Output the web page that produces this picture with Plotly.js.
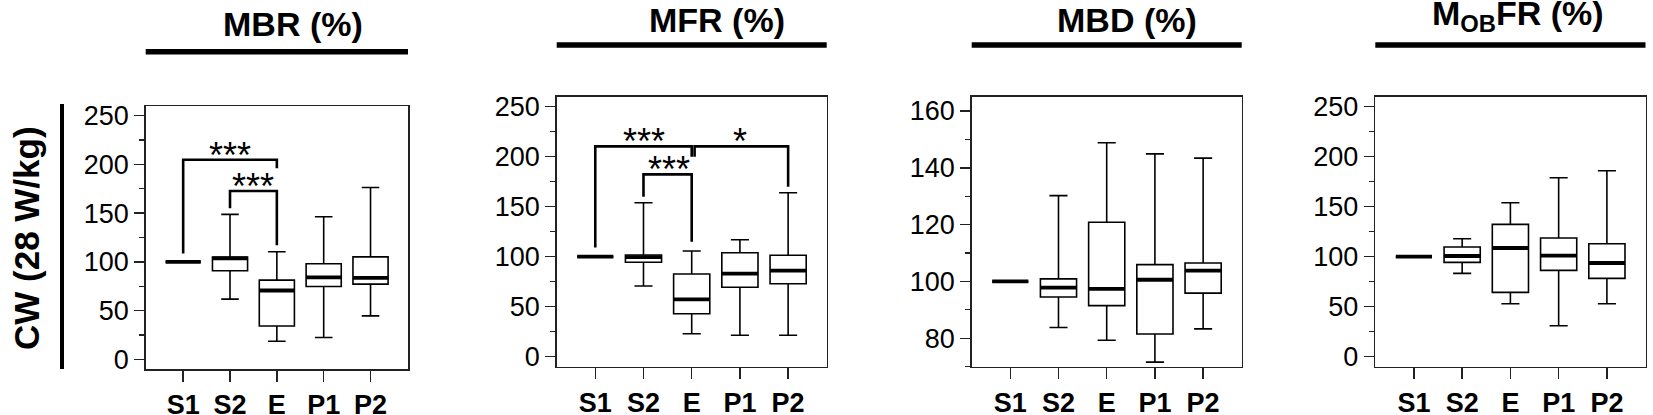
<!DOCTYPE html>
<html>
<head>
<meta charset="utf-8">
<script src="https://cdn.plot.ly/plotly-3.0.1.min.js"></script>
<style>
  html, body { margin: 0; padding: 0; background: #fff; }
  #plot { width: 1653px; height: 415px; }
</style>
</head>
<body>
<div id="plot"></div>
<script>
// categories on the x axis
const categories = ['S1', 'S2', 'E', 'P1', 'P2'];
const catPos = [0, 1, 2, 3, 4];

// MBR (%)
const mbrLow    = [100, 61.7, 18.5, 22.3, 44.5];
const mbrQ1     = [100, 90.8, 34.2, 74.7, 77.1];
const mbrMedian = [100, 103.5, 70.6, 84.0, 83.6];
const mbrQ3     = [100, 105.0, 81.2, 98.0, 105.1];
const mbrHigh   = [100, 148.7, 110.3, 146.3, 176.4];

// MFR (%)
const mfrLow    = [100, 70.7, 23.0, 21.4, 21.4];
const mfrQ1     = [100, 94.4, 43.0, 69.4, 73.0];
const mfrMedian = [100, 99.5, 57.4, 83.0, 86.0];
const mfrQ3     = [100, 101.7, 82.7, 104.0, 101.4];
const mfrHigh   = [100, 154.0, 105.7, 117.0, 164.0];

// MBD (%)
const mbdLow    = [100, 83.8, 79.3, 71.6, 83.3];
const mbdQ1     = [100, 94.5, 91.5, 81.5, 95.9];
const mbdMedian = [100, 97.8, 97.4, 100.6, 103.8];
const mbdQ3     = [100, 100.9, 120.8, 105.9, 106.5];
const mbdHigh   = [100, 130.2, 148.8, 144.9, 143.4];

// MOBFR (%)
const mobLow    = [100, 83.3, 53.0, 31.0, 53.0];
const mobQ1     = [100, 94.3, 64.3, 86.3, 78.3];
const mobMedian = [100, 100.7, 108.7, 101.0, 93.7];
const mobQ3     = [100, 109.7, 132.3, 118.7, 113.0];
const mobHigh   = [100, 118.0, 154.0, 179.0, 186.0];

// significance brackets: [x positions], [y positions], label
const mbrBracketsX = [[0, 0, 2, 2], [1, 1, 2, 2]];
const mbrBracketsY = [[108.5, 204.8, 204.8, 196], [155, 172.7, 172.7, 117]];
const mbrStarsX = [1.0, 1.5];
const mbrStarsY = [204.8, 172.7];
const mbrStars  = ['***', '***'];

const mfrBracketsX = [[0, 0, 2, 2], [2.06, 2.06, 4, 4], [1, 1, 2, 2]];
const mfrBracketsY = [[109.3, 210.3, 210.3, 200], [200, 210.3, 210.3, 170], [160, 182.3, 182.3, 115]];
const mfrStarsX = [1.02, 3.0, 1.53];
const mfrStarsY = [210.3, 210.3, 182.3];
const mfrStars  = ['***', '*', '***'];

const panelTitles = ['MBR (%)', 'MFR (%)', 'MBD (%)', 'M<sub>OB</sub>FR (%)'];
const rowTitle = 'CW (28 W/kg)';

const FONT = 'Liberation Sans, Arial, sans-serif';
const W = 1653, H = 415;
const px = v => v / W;
const py = v => 1 - v / H;

const panels = [
  {low: mbrLow, q1: mbrQ1, med: mbrMedian, q3: mbrQ3, high: mbrHigh,
   xd: [145.7, 408], yd: [369, 106], range: [-10, 260], dtick: 50, minor: 25},
  {low: mfrLow, q1: mfrQ1, med: mfrMedian, q3: mfrQ3, high: mfrHigh,
   xd: [556.7, 826.7], yd: [366.7, 96.7], range: [-10, 260], dtick: 50, minor: 25},
  {low: mbdLow, q1: mbdQ1, med: mbdMedian, q3: mbdQ3, high: mbdHigh,
   xd: [971.7, 1241.7], yd: [366.7, 96.7], range: [70, 165], dtick: 20, minor: 10},
  {low: mobLow, q1: mobQ1, med: mobMedian, q3: mobQ3, high: mobHigh,
   xd: [1375.3, 1645.5], yd: [366.7, 96.7], range: [-10, 260], dtick: 50, minor: 25}
];

const boxW = 0.75;
const data = [];
const layout = {
  width: W, height: H,
  margin: {l: 0, r: 0, t: 0, b: 0},
  paper_bgcolor: '#fff', plot_bgcolor: '#fff',
  showlegend: false,
  font: {family: FONT, color: '#000'},
  shapes: [], annotations: []
};

panels.forEach((p, i) => {
  const n = i === 0 ? '' : String(i + 1);
  const xa = 'x' + n, ya = 'y' + n;

  data.push({
    type: 'box', xaxis: xa, yaxis: ya,
    x: catPos, q1: p.q1, median: p.med, q3: p.q3,
    lowerfence: p.low, upperfence: p.high,
    width: boxW, whiskerwidth: 0.5, boxpoints: false,
    line: {color: '#000', width: 1.6},
    fillcolor: 'rgba(255,255,255,0)',
    hoverinfo: 'skip'
  });

  // thick median bars
  const mx = [], my = [];
  catPos.forEach((c, k) => {
    mx.push(c - boxW / 2, c + boxW / 2, null);
    my.push(p.med[k], p.med[k], null);
  });
  data.push({
    type: 'scatter', mode: 'lines', xaxis: xa, yaxis: ya,
    x: mx, y: my, line: {color: '#000', width: 3.8}, hoverinfo: 'skip'
  });

  layout['xaxis' + n] = {
    domain: [px(p.xd[0]), px(p.xd[1])], anchor: ya,
    range: [-0.8, 4.8], tickvals: catPos, ticktext: categories,
    showline: true, mirror: true, linecolor: '#222', linewidth: 1.5,
    ticks: 'outside', ticklen: 11, tickwidth: 1.5, tickcolor: '#222',
    showgrid: false, zeroline: false, automargin: false,
    tickfont: {family: FONT, size: 27, color: '#000', weight: 'bold'}
  };
  layout['yaxis' + n] = {
    domain: [py(p.yd[0]), py(p.yd[1])], anchor: xa,
    range: p.range, dtick: p.dtick, tick0: 0,
    showline: true, mirror: true, linecolor: '#222', linewidth: 1.5,
    ticks: 'outside', ticklen: 10, tickwidth: 1.5, tickcolor: '#222',
    minor: {dtick: p.minor, tick0: 0, ticks: 'outside', ticklen: 5, tickwidth: 1.2, tickcolor: '#222'},
    showgrid: false, zeroline: false, automargin: false,
    tickfont: {family: FONT, size: 27, color: '#000'}
  };

  // heavy bar under each panel title
  layout.shapes.push({
    type: 'line', xref: xa + ' domain', yref: 'paper',
    x0: 0, x1: 1, y0: py(i === 0 ? 51.7 : 45), y1: py(i === 0 ? 51.7 : 45),
    line: {color: '#000', width: 5.5}
  });
});

// panel titles
const titleX = [293.3, 716.7, 1127, 1517.5];
const titleY = [24, 19.5, 19.5, 19.5];
panelTitles.forEach((t, i) => {
  layout.annotations.push({
    text: '<b>' + t + '</b>', xref: 'paper', yref: 'paper',
    x: px(titleX[i]), y: py(titleY[i]), xanchor: 'center', yanchor: 'middle',
    yshift: i === 3 ? 4 : 0,
    showarrow: false, font: {family: FONT, size: 34, color: '#000'}
  });
});

// row title and its bar
layout.annotations.push({
  text: '<b>' + rowTitle + '</b>', xref: 'paper', yref: 'paper',
  x: px(26), y: py(238), xanchor: 'center', yanchor: 'middle', textangle: -90,
  showarrow: false, font: {family: FONT, size: 35, color: '#000'}
});
layout.shapes.push({
  type: 'line', xref: 'paper', yref: 'paper',
  x0: px(62), x1: px(62), y0: py(104), y1: py(369),
  line: {color: '#000', width: 4}
});

// significance brackets
function addBrackets(bx, by, sx, sy, st, xa, ya) {
  bx.forEach((xs, k) => {
    data.push({
      type: 'scatter', mode: 'lines', xaxis: xa, yaxis: ya,
      x: xs, y: by[k], line: {color: '#000', width: 2.6}, hoverinfo: 'skip'
    });
  });
  st.forEach((s, k) => {
    layout.annotations.push({
      text: s, xref: xa, yref: ya, x: sx[k], y: sy[k],
      xanchor: 'center', yanchor: 'bottom', showarrow: false, yshift: -18,
      font: {family: FONT, size: 36, color: '#000'}
    });
  });
}
addBrackets(mbrBracketsX, mbrBracketsY, mbrStarsX, mbrStarsY, mbrStars, 'x', 'y');
addBrackets(mfrBracketsX, mfrBracketsY, mfrStarsX, mfrStarsY, mfrStars, 'x2', 'y2');

Plotly.newPlot('plot', data, layout, {staticPlot: true});
</script>
</body>
</html>
